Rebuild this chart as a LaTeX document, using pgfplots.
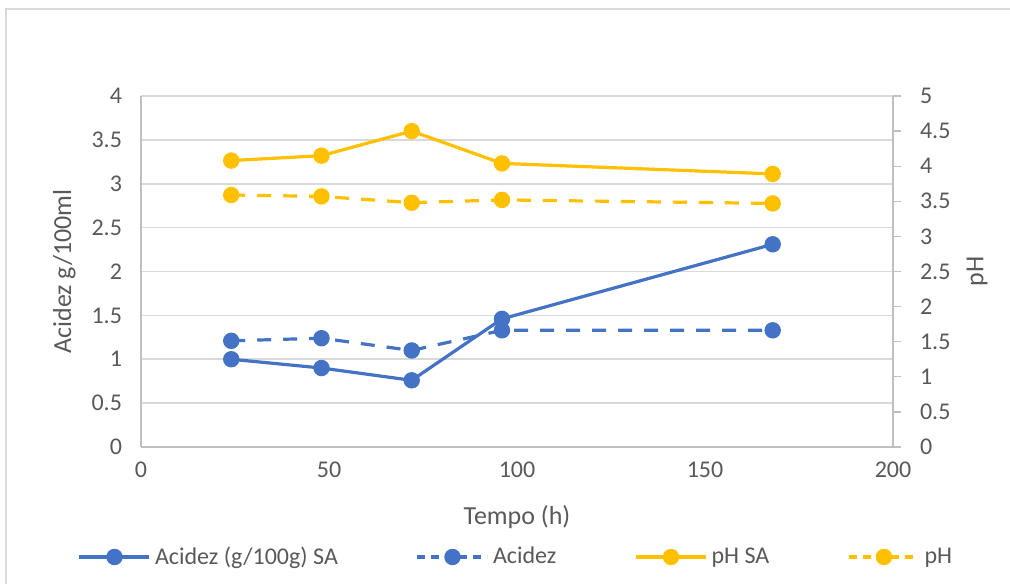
\documentclass[border=0pt]{standalone}
\usepackage{pgfplots}
\pgfplotsset{compat=1.18}
\usepackage{fontspec}
\setmainfont{Carlito}
\definecolor{cblue}{HTML}{4472C4}
\definecolor{cgold}{HTML}{FFC000}
\definecolor{cgrid}{HTML}{D9D9D9}
\definecolor{caxis}{HTML}{BFBFBF}
\definecolor{ctext}{HTML}{595959}
\pgfplotsset{
  common/.style={
    scale only axis, width=376pt, height=175.5pt,
    at={(70.5pt,68pt)}, anchor=south west,
    xmin=0, xmax=200,
    tick label style={font=\fontsize{12}{14}\selectfont, color=ctext},
    label style={font=\fontsize{13}{15}\selectfont, color=ctext},
    /pgf/number format/assume math mode=true,
    axis line style={caxis, line width=0.6pt},
  },
  sline/.style={line width=1.6pt, mark=*, mark size=3.3pt},
  dline/.style={line width=1.6pt, mark=*, mark size=3.3pt, dash pattern=on 7pt off 6pt, mark options={solid}},
}
\begin{document}
\begin{tikzpicture}
\useasboundingbox (0,0) rectangle (505pt,291.5pt);
\draw[cgrid, line width=0.8pt] (3pt,-5pt) |- (515pt,287pt);
\begin{axis}[common,
  ymin=0, ymax=4, ytick={0,0.5,...,4},
  yticklabels={0,0.5,1,1.5,2,2.5,3,3.5,4},
  xtick={0,50,100,150,200},
  axis x line*=bottom, axis y line*=left,
  ymajorgrids, grid style={cgrid, line width=0.8pt},
  major tick length=0pt,
  yticklabel style={xshift=-6pt},
  xticklabel style={yshift=-4pt},
  ylabel={Acidez g/100ml},
  ylabel style={at={(axis description cs:-0.102,0.5)}, anchor=center},
  xlabel={Tempo (h)},
  xlabel style={at={(axis description cs:0.5,-0.2)}, anchor=center},
  clip=false,
]
\addplot[cblue, sline] coordinates {(24,1.00) (48,0.90) (72,0.76) (96,1.46) (168,2.31)};
\addplot[cblue, dline] coordinates {(24,1.21) (48,1.24) (72,1.10) (96,1.33) (168,1.33)};
\end{axis}
\begin{axis}[common,
  ymin=0, ymax=5, ytick={0,0.5,...,5},
  yticklabels={0,0.5,1,1.5,2,2.5,3,3.5,4,4.5,5},
  axis y line*=right, axis x line=none,
  ytick style={caxis, line width=0.6pt},
  major tick length=4pt,
  tick align=outside,
  yticklabel style={xshift=6pt},
  ylabel={pH},
  ylabel style={at={(axis description cs:1.112,0.5)}, anchor=center},
  clip=false,
  legend columns=4,
  legend style={at={(axis description cs:0.5,0)}, yshift=-55pt, anchor=center, draw=none, fill=none,
     font=\fontsize{12}{14}\selectfont, text=ctext,
     /tikz/every even column/.append style={column sep=37pt},
     /tikz/every odd column/.append style={column sep=0pt}},
  legend image code/.code={\draw[mark repeat=2, mark phase=2, #1] plot coordinates {(0pt,0pt) (17.5pt,0pt) (35pt,0pt)};},
]
\addlegendimage{cblue, sline}
\addlegendentry{Acidez (g/100g) SA}
\addlegendimage{cblue, line width=1.6pt, mark=*, mark size=3.3pt, dash pattern=on 4pt off 3pt, mark options={solid}}
\addlegendentry{Acidez}
\addlegendimage{cgold, sline}
\addlegendentry{pH SA\hspace{-6pt}}
\addlegendimage{cgold, line width=1.6pt, mark=*, mark size=3.3pt, dash pattern=on 4pt off 3pt, mark options={solid}}
\addlegendentry{pH}
\addplot[cgold, sline] coordinates {(24,4.08) (48,4.15) (72,4.50) (96,4.04) (168,3.89)};
\addplot[cgold, dline] coordinates {(24,3.59) (48,3.57) (72,3.48) (96,3.52) (168,3.47)};
\end{axis}
\end{tikzpicture}
\end{document}
